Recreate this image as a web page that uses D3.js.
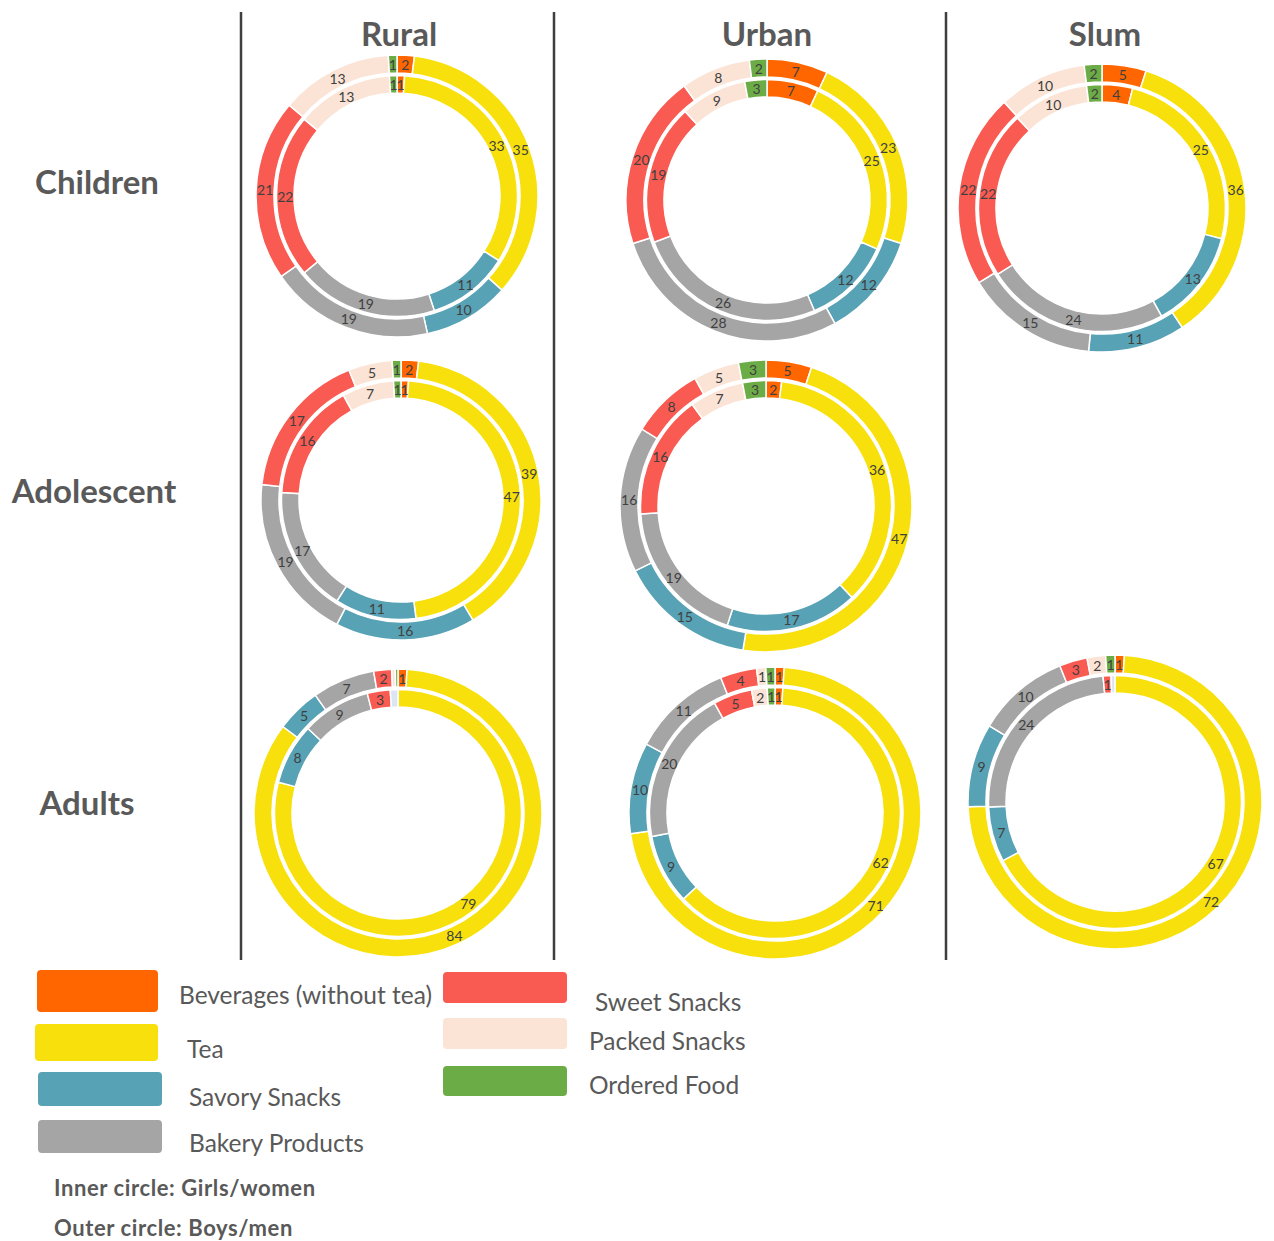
<!DOCTYPE html>
<html>
<head>
<meta charset="utf-8">
<script src="https://cdn.jsdelivr.net/npm/d3@7"></script>
<style>
  html, body { margin: 0; padding: 0; background: #fff; }
  svg { display: block; }
</style>
</head>
<body>
<svg id="chart" width="1274" height="1241"></svg>
<script>
// ---------- DATA ----------
const categories = ["Beverages (without tea)", "Tea", "Savory Snacks", "Bakery Products",
                    "Sweet Snacks", "Packed Snacks", "Ordered Food", "Other"];
const colors = ["#FF6600", "#F7E00B", "#58A2B5", "#A5A5A5", "#F95B52", "#FBE4D6", "#6CAC46", "#DCE6F2"];
// clockwise order of categories on each ring (starting at 12 o'clock)
const ringOrder = ["Beverages (without tea)", "Tea", "Savory Snacks", "Bakery Products",
                   "Sweet Snacks", "Packed Snacks", "Other", "Ordered Food"];
const legendCategories = categories.slice(0, 7);

const columns = ["Rural", "Urban", "Slum"];
const rows = ["Children", "Adolescent", "Adults"];

// values per category (same order as `categories`); outer = boys/men, inner = girls/women
const ruralChildrenOuter      = [2, 35, 10, 19, 21, 13, 1, 0];
const ruralChildrenInner      = [1, 33, 11, 19, 22, 13, 1, 0];
const urbanChildrenOuter      = [7, 23, 12, 28, 20, 8, 2, 0];
const urbanChildrenInner      = [7, 25, 12, 26, 19, 9, 3, 0];
const slumChildrenOuter       = [5, 36, 11, 15, 22, 10, 2, 0];
const slumChildrenInner       = [4, 25, 13, 24, 22, 10, 2, 0];
const ruralAdolescentOuter    = [2, 39, 16, 19, 17, 5, 1, 0];
const ruralAdolescentInner    = [1, 47, 11, 17, 16, 7, 1, 0];
const urbanAdolescentOuter    = [5, 47, 15, 16, 8, 5, 3, 0];
const urbanAdolescentInner    = [2, 36, 17, 19, 16, 7, 3, 0];
const ruralAdultsOuter        = [1, 84, 5, 7, 2, 0.4, 0.3, 0];
const ruralAdultsInner        = [0, 79, 8, 9, 3, 0, 0, 1];
const urbanAdultsOuter        = [1, 71, 10, 11, 4, 1, 1, 0];
const urbanAdultsInner        = [1, 62, 9, 20, 5, 2, 1, 0];
const slumAdultsOuter         = [1, 72, 9, 10, 3, 2, 1, 0];
const slumAdultsInner         = [0, 67, 7, 24, 1, 0, 0, 0.5];

const panels = [
  { col: "Rural", row: "Children",   outer: ruralChildrenOuter,   inner: ruralChildrenInner },
  { col: "Urban", row: "Children",   outer: urbanChildrenOuter,   inner: urbanChildrenInner },
  { col: "Slum",  row: "Children",   outer: slumChildrenOuter,    inner: slumChildrenInner },
  { col: "Rural", row: "Adolescent", outer: ruralAdolescentOuter, inner: ruralAdolescentInner },
  { col: "Urban", row: "Adolescent", outer: urbanAdolescentOuter, inner: urbanAdolescentInner },
  { col: "Rural", row: "Adults",     outer: ruralAdultsOuter,     inner: ruralAdultsInner },
  { col: "Urban", row: "Adults",     outer: urbanAdultsOuter,     inner: urbanAdultsInner },
  { col: "Slum",  row: "Adults",     outer: slumAdultsOuter,      inner: slumAdultsInner }
];

// ---------- LAYOUT ----------
const layout = {
  "Rural|Children":   { cx: 397, cy: 196, r: 141 },
  "Urban|Children":   { cx: 767, cy: 200, r: 141 },
  "Slum|Children":    { cx: 1102, cy: 208, r: 144 },
  "Rural|Adolescent": { cx: 401, cy: 500, r: 140 },
  "Urban|Adolescent": { cx: 766, cy: 506, r: 146 },
  "Rural|Adults":     { cx: 398, cy: 813, r: 144 },
  "Urban|Adults":     { cx: 775, cy: 813, r: 146 },
  "Slum|Adults":      { cx: 1115, cy: 802, r: 147 }
};
const colHeaderX = { "Rural": 399, "Urban": 767, "Slum": 1105 };
const rowHeaderPos = { "Children": { x: 97, y: 181 }, "Adolescent": { x: 94, y: 490 }, "Adults": { x: 87, y: 802 } };
const dividersX = [241, 554, 946];

const FONT = "Lato, 'Open Sans', sans-serif";
const svg = d3.select("#chart");
const color = d3.scaleOrdinal().domain(categories).range(colors);

// dividers
svg.selectAll("line.divider").data(dividersX).join("line")
  .attr("class", "divider")
  .attr("x1", d => d).attr("x2", d => d)
  .attr("y1", 12).attr("y2", 960)
  .attr("stroke", "#3f3f3f").attr("stroke-width", 2.5);

// column headers
svg.selectAll("text.colh").data(columns).join("text")
  .attr("class", "colh")
  .attr("x", d => colHeaderX[d]).attr("y", 33)
  .attr("text-anchor", "middle").attr("dominant-baseline", "central")
  .attr("font-family", FONT).attr("font-weight", 700).attr("font-size", 33)
  .attr("fill", "#595959").text(d => d);

// row headers
svg.selectAll("text.rowh").data(rows).join("text")
  .attr("class", "rowh")
  .attr("x", d => rowHeaderPos[d].x).attr("y", d => rowHeaderPos[d].y)
  .attr("text-anchor", "middle").attr("dominant-baseline", "central")
  .attr("font-family", FONT).attr("font-weight", 700).attr("font-size", 33)
  .attr("fill", "#595959").text(d => d);

const pie = d3.pie()
  .value(d => d.value)
  .sort((a, b) => ringOrder.indexOf(a.key) - ringOrder.indexOf(b.key))
  .startAngle(0).endAngle(2 * Math.PI);

panels.forEach(p => {
  const L = layout[p.col + "|" + p.row];
  const g = svg.append("g").attr("transform", `translate(${L.cx},${L.cy})`);
  const rings = [
    { vals: p.outer, r0: L.r - 18, r1: L.r },
    { vals: p.inner, r0: L.r - 38, r1: L.r - 20.5 }
  ];
  rings.forEach(ring => {
    const data = categories.map((c, i) => ({ key: c, value: ring.vals[i] })).filter(d => d.value > 0);
    const arcs = pie(data);
    const arc = d3.arc().innerRadius(ring.r0).outerRadius(ring.r1);
    g.append("g").selectAll("path").data(arcs).join("path")
      .attr("d", arc)
      .attr("fill", d => color(d.data.key))
      .attr("stroke", "#fff").attr("stroke-width", 1.5);
    g.append("g").selectAll("text")
      .data(arcs.filter(d => d.data.key !== "Other" && Math.round(d.data.value) > 0))
      .join("text")
      .attr("transform", d => `translate(${arc.centroid(d)})`)
      .attr("text-anchor", "middle").attr("dominant-baseline", "central")
      .attr("font-family", FONT).attr("font-size", 14)
      .attr("fill", "#404040")
      .text(d => Math.round(d.data.value));
  });
});

// ---------- LEGEND ----------
const legendBoxes = {
  "Beverages (without tea)": { x: 37, y: 970, w: 121, h: 42, tx: 179, ty: 994 },
  "Tea":                     { x: 35, y: 1024, w: 123, h: 37, tx: 187, ty: 1048 },
  "Savory Snacks":           { x: 38, y: 1072, w: 124, h: 34, tx: 189, ty: 1096 },
  "Bakery Products":         { x: 38, y: 1120, w: 124, h: 33, tx: 189, ty: 1142 },
  "Sweet Snacks":            { x: 443, y: 972, w: 124, h: 31, tx: 595, ty: 1001 },
  "Packed Snacks":           { x: 443, y: 1018, w: 124, h: 31, tx: 589, ty: 1040 },
  "Ordered Food":            { x: 443, y: 1066, w: 124, h: 30, tx: 589, ty: 1084 }
};
const lg = svg.append("g");
lg.selectAll("rect").data(legendCategories).join("rect")
  .attr("x", d => legendBoxes[d].x).attr("y", d => legendBoxes[d].y)
  .attr("width", d => legendBoxes[d].w).attr("height", d => legendBoxes[d].h)
  .attr("rx", 4).attr("fill", d => color(d));
lg.selectAll("text").data(legendCategories).join("text")
  .attr("x", d => legendBoxes[d].tx).attr("y", d => legendBoxes[d].ty)
  .attr("dominant-baseline", "central")
  .attr("font-family", FONT).attr("font-size", 24.5).attr("fill", "#595959")
  .text(d => d);

const notes = ["Inner circle: Girls/women", "Outer circle: Boys/men"];
svg.selectAll("text.note").data(notes).join("text")
  .attr("class", "note")
  .attr("x", 54).attr("y", (d, i) => 1187 + i * 40)
  .attr("dominant-baseline", "central")
  .attr("font-family", FONT).attr("font-weight", 700).attr("font-size", 22)
  .attr("letter-spacing", 0.6)
  .attr("fill", "#595959").text(d => d);
</script>
</body>
</html>
